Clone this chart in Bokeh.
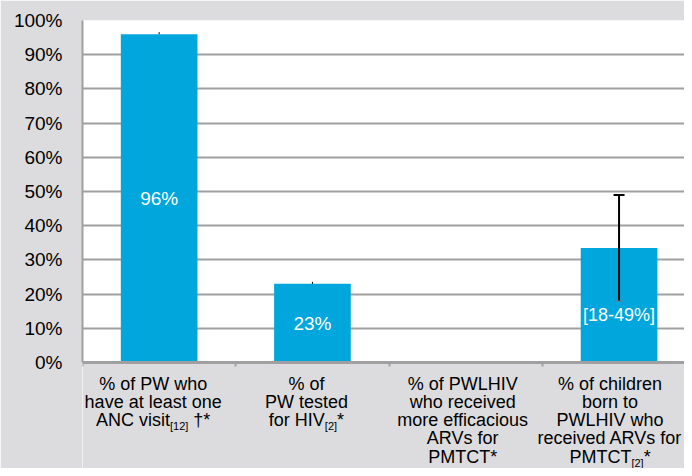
import math
from bokeh.plotting import figure
from bokeh.models import (Range1d, FixedTicker, PrintfTickFormatter, Label, Whisker, TeeHead,
                          ColumnDataSource, BoxAnnotation, CustomJSTickFormatter)
from bokeh.core.properties import value
from bokeh.embed import file_html
from bokeh.resources import INLINE

# ---- data ----
values = [96, 23, float("nan"), 33.5]
err_low = [96, 23, float("nan"), 18]
err_high = [96, 23, float("nan"), 49]
bar_labels = ["96%", "23%", "", "[18-49%]"]
y_ticks = [0, 10, 20, 30, 40, 50, 60, 70, 80, 90, 100]
x_labels = [
    ["% of PW who", "have at least one", "ANC visit_{[12]} †*"],
    ["% of", "PW tested", "for HIV_{[2]}*"],
    ["% of PWLHIV", "who received", "more efficacious", "ARVs for", "PMTCT*"],
    ["% of children", "born to", "PWLHIV who", "received ARVs for", "PMTCT_{[2]}*"],
]

# ---- style / layout ----
FONT = "Liberation Sans"
BAR = "#00a6dc"
BG = "#dcdcde"
GRID = "#a0a0a0"
W, H = 684, 468
LEFT, TOP = 82, 20
PLOT_H = 342            # height in px of the 0..100 % band
PX_PER_UNIT = PLOT_H / 100.0
CAT_PX = 153.3          # px per category
MAIN_SIZE = 18
SUB_SIZE = 11
SUB_DROP = 6
LINE_H = 18.3
FIRST_LINE = 21
label_shift = [-6, -6, -3, -9]

AW = {' ': 278, '%': 889, '*': 389, '†': 556, '[': 278, ']': 278, '1': 556, '2': 556,
      'A': 667, 'C': 722, 'H': 722, 'I': 278, 'M': 833, 'N': 722, 'P': 667, 'T': 611,
      'V': 667, 'f': 278, 'i': 222, 'o': 556, 'r': 333, 's': 500, 't': 278, 'v': 500,
      'W': 944, 'L': 556, 'h': 556, 'w': 722, 'a': 556, 'e': 556, 'l': 222, 'n': 556,
      'c': 500, 'd': 556, 'u': 556, 'R': 722, 'b': 556, 'm': 833}


def text_w(t, size):
    return sum(AW.get(ch, 556) for ch in t) * size / 1000.0


def parse(line):
    segs = []
    rest = line
    while "_{" in rest:
        a, b = rest.split("_{", 1)
        sub, rest = b.split("}", 1)
        if a:
            segs.append((a, False))
        segs.append((sub, True))
    if rest:
        segs.append((rest, False))
    return segs


frame_h = H - TOP
y_min = -(frame_h - PLOT_H) / PX_PER_UNIT
x_max = (W - LEFT) / CAT_PX

p = figure(width=W, height=H, output_backend="svg", toolbar_location=None,
           x_range=Range1d(0, x_max), y_range=Range1d(y_min, 100),
           min_border_left=LEFT, min_border_right=0, min_border_top=TOP,
           min_border_bottom=0, background_fill_color="white",
           border_fill_color=BG, outline_line_color=None)

# grey area below the 0 line
p.add_layout(BoxAnnotation(top=0, fill_color=BG, fill_alpha=1, line_color=None, level="underlay"))

xs = [i + 0.5 for i in range(len(values))]
p.vbar(x=xs, top=values, width=0.5, color=BAR, line_color=None)

# error bars
src = ColumnDataSource(dict(x=[xs[3]], lo=[err_low[3]], hi=[err_high[3]]))
wh = Whisker(source=src, base="x", lower="lo", upper="hi", line_color="black", line_width=2,
             level="overlay",
             upper_head=TeeHead(size=11, line_width=2, line_color="black"),
             lower_head=TeeHead(size=8, line_width=1, line_color="#777777"))
p.add_layout(wh)
tiny_x = [xs[i] for i in range(2)]
tiny_y = [err_high[i] for i in range(2)]
p.ray(x=tiny_x, y=tiny_y, length=2, length_units="screen", angle=math.pi / 2,
      line_color="black", line_width=1)

# in-bar labels
for i, t in enumerate(bar_labels):
    if not t:
        continue
    ly = min(values[i] / 2.0, err_low[i] - 4)
    p.add_layout(Label(x=xs[i], y=ly, text=t, text_align="center", text_baseline="middle",
                       text_color="white", text_font=FONT,
                       text_font_size="18px" if len(t) > 4 else "19px"))

# axes
p.ygrid.ticker = FixedTicker(ticks=y_ticks)
p.ygrid.grid_line_color = GRID
p.ygrid.grid_line_width = 2
p.xgrid.grid_line_color = None

p.yaxis.ticker = FixedTicker(ticks=y_ticks)
p.yaxis.bounds = (0, 100)
p.yaxis.formatter = PrintfTickFormatter(format="%d%%")
p.yaxis.axis_line_color = GRID
p.yaxis.axis_line_width = 2
p.yaxis.major_tick_out = 0
p.yaxis.major_tick_in = 0
p.yaxis.minor_tick_out = 0
p.yaxis.minor_tick_in = 0
p.yaxis.major_label_standoff = 20
p.yaxis.major_label_text_font = FONT
p.yaxis.major_label_text_font_size = "19px"
p.yaxis.major_label_text_color = "black"

p.xaxis.ticker = FixedTicker(ticks=[0, 1, 2, 3])
p.xaxis.fixed_location = 0
p.xaxis.formatter = CustomJSTickFormatter(code="return ''")
p.xaxis.axis_line_color = GRID
p.xaxis.axis_line_width = 3
p.xaxis.major_tick_out = 4
p.xaxis.major_tick_in = 0
p.xaxis.major_tick_line_color = GRID
p.xaxis.major_tick_line_width = 2
p.xaxis.minor_tick_out = 0
p.xaxis.minor_tick_in = 0
p.xaxis.major_label_standoff = 0

# category labels (with subscripts), drawn as text glyphs in the grey band below 0
tx, ty, tt, toff, tsize = [], [], [], [], []
for i, lines in enumerate(x_labels):
    for j, line in enumerate(lines):
        segs = parse(line)
        widths = [text_w(t, SUB_SIZE if sub else MAIN_SIZE) for t, sub in segs]
        xoff = label_shift[i] - sum(widths) / 2.0
        ypx = FIRST_LINE + j * LINE_H
        for (t, sub), wdt in zip(segs, widths):
            size = SUB_SIZE if sub else MAIN_SIZE
            lead = len(t) - len(t.lstrip(" "))
            tx.append(xs[i])
            ty.append(-(ypx + (SUB_DROP if sub else 0)) / PX_PER_UNIT)
            tt.append(t.strip(" "))
            toff.append(xoff + text_w(" " * lead, size))
            tsize.append(f"{size}px")
            xoff += wdt

lab_src = ColumnDataSource(dict(x=tx, y=ty, text=tt, xo=toff, size=tsize))
p.text(x="x", y="y", text="text", x_offset="xo", text_font_size="size", source=lab_src,
       text_align="left", text_baseline="middle", text_color="black",
       text_font=value(FONT))

open("out.html", "w").write(file_html(p, INLINE))
